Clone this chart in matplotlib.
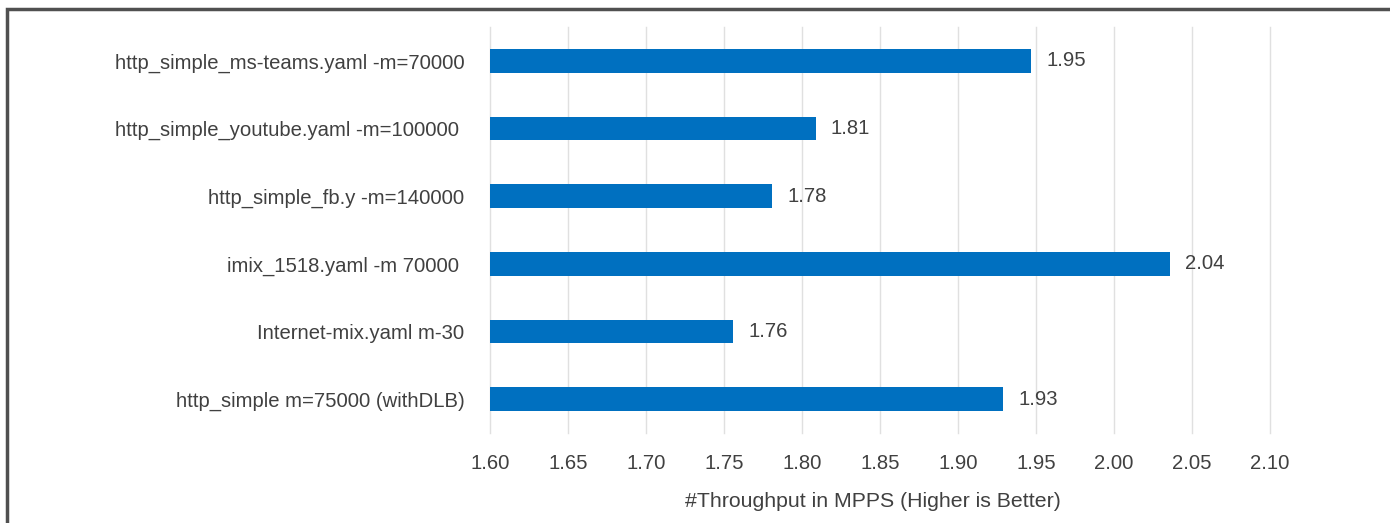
import matplotlib
matplotlib.use("Agg")
import matplotlib.pyplot as plt
from matplotlib.patches import Rectangle

categories = [
    "http_simple_ms-teams.yaml -m=70000",
    "http_simple_youtube.yaml -m=100000 ",
    "http_simple_fb.y -m=140000",
    "imix_1518.yaml -m 70000 ",
    "Internet-mix.yaml m-30",
    "http_simple m=75000 (withDLB)",
]
values = [1.947, 1.809, 1.781, 2.036, 1.756, 1.929]
xticks = [1.60, 1.65, 1.70, 1.75, 1.80, 1.85, 1.90, 1.95, 2.00, 2.05, 2.10]
xlabel = "#Throughput in MPPS (Higher is Better)"

plt.rcParams['font.family'] = ['Liberation Sans', 'DejaVu Sans']

txt = "#404040"
fs = 14.6
fig = plt.figure(figsize=(13.9, 5.23), dpi=100)
ax = fig.add_axes([490/1390, 1-433/523, 780/1390, 406/523])

ypos = list(range(len(categories)))
ax.barh(ypos, [v - 1.6 for v in values], left=1.6, height=0.35, color="#0070C0", zorder=3)
for y, v in zip(ypos, values):
    ax.text(v + 0.0095, y, f"{v:.2f}", va="center", ha="left", fontsize=fs, color=txt)

ax.set_xlim(1.6, 2.1)
ax.set_ylim(len(categories) - 0.5, -0.5)
ax.set_xticks(xticks)
ax.set_xticklabels([f"{t:.2f}" for t in xticks], fontsize=fs, color=txt)
ax.set_yticks(ypos)
ax.set_yticklabels(categories, fontsize=fs, color=txt)
ax.tick_params(axis="both", length=0)
ax.tick_params(axis="x", pad=15)
ax.tick_params(axis="y", pad=18.5)
ax.grid(axis="x", color="#e0e0e0", linewidth=1.0, zorder=0)
for gl in ax.get_xgridlines():
    gl.set_clip_on(False)
for s in ax.spines.values():
    s.set_visible(False)
ax.set_xlabel(xlabel, fontsize=15.3, color=txt, labelpad=14)
ax.xaxis.label.set_x(0.491)

fig.patches.append(Rectangle((7/1390, -0.1), 1.2, 1 - 9/523 + 0.1, transform=fig.transFigure,
                             fill=False, edgecolor="#505050", linewidth=2.5))

fig.savefig("out.png", dpi=100)
